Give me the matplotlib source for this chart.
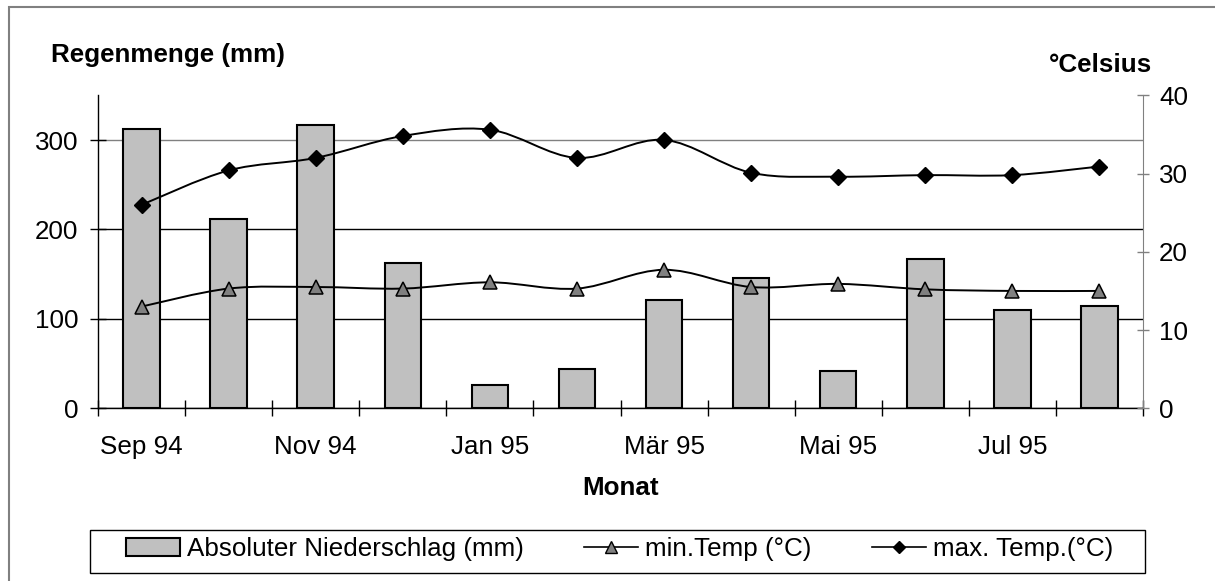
import numpy as np
import matplotlib.pyplot as plt
from matplotlib.path import Path
from matplotlib.patches import PathPatch, Patch, Rectangle
from matplotlib.lines import Line2D

plt.rcParams['font.family'] = ['Liberation Sans', 'DejaVu Sans']

# Daten
monate = ["Sep 94", "Okt 94", "Nov 94", "Dez 94", "Jan 95", "Feb 95",
          "Mär 95", "Apr 95", "Mai 95", "Jun 95", "Jul 95", "Aug 95"]
regen = [312, 212, 317, 162, 26, 44, 121, 146, 42, 167, 110, 114]
tmin = [13.0, 15.3, 15.5, 15.3, 16.1, 15.3, 17.7, 15.5, 15.9, 15.2, 15.0, 15.0]
tmax = [26.0, 30.4, 32.0, 34.8, 35.6, 32.0, 34.3, 30.1, 29.6, 29.8, 29.8, 30.9]
legende = ["Absoluter Niederschlag (mm)", "min.Temp (°C)", "max. Temp.(°C)"]

fs = 18.7


def glatt(x, y):
    # geglaettete Linie wie in Excel (Bezier durch die Punkte)
    x = np.asarray(x, float)
    y = np.asarray(y, float)
    px = np.concatenate([[x[0]], x, [x[-1]]])
    py = np.concatenate([[y[0]], y, [y[-1]]])
    verts = [(x[0], y[0])]
    codes = [Path.MOVETO]
    for i in range(1, len(x)):
        c1 = (px[i] + (px[i + 1] - px[i - 1]) / 6, py[i] + (py[i + 1] - py[i - 1]) / 6)
        c2 = (px[i + 1] - (px[i + 2] - px[i]) / 6, py[i + 1] - (py[i + 2] - py[i]) / 6)
        verts += [c1, c2, (x[i], y[i])]
        codes += [Path.CURVE4] * 3
    return Path(verts, codes)


fig = plt.figure(figsize=(12.15, 5.81), dpi=100)
ax = fig.add_axes([98 / 1215, 1 - 408.3 / 581, 1045 / 1215, 313 / 581])
ax2 = ax.twinx()

x = np.arange(len(monate))
ax.bar(x, regen, width=0.42, color="#c0c0c0", edgecolor="black", linewidth=1.5, zorder=2)
ax.set_xlim(-0.5, 11.5)
ax.set_ylim(0, 350)
ax.set_yticks([0, 100, 200, 300])
ax.yaxis.grid(True, color="black", linewidth=1, zorder=0)
ax.set_axisbelow(True)
gl = ax.get_ygridlines()
gl[-1].set_color("#808080")

ax.set_xticks(np.arange(-0.5, 12, 1))
ax.set_xticklabels([])
ax.set_xticks(x[::2], minor=True)
ax.set_xticklabels(monate[::2], minor=True)
ax.tick_params(axis="x", which="major", direction="inout", length=12, width=1)
ax.tick_params(axis="x", which="minor", length=0, pad=19, labelsize=fs)
ax.tick_params(axis="y", direction="inout", length=11.5, width=1, pad=8.6, labelsize=fs)

for s in ["top", "right"]:
    ax.spines[s].set_visible(False)
ax.spines["left"].set_linewidth(1)
ax.spines["bottom"].set_linewidth(1)

ax2.set_ylim(0, 40)
ax2.set_yticks([0, 10, 20, 30, 40])
ax2.tick_params(axis="y", direction="inout", length=8.4, width=1, pad=7.3,
                labelsize=fs, color="#808080")
for s in ["top", "left", "bottom"]:
    ax2.spines[s].set_visible(False)
ax2.spines["right"].set_color("#808080")

ax2.add_patch(PathPatch(glatt(x, tmin), fill=False, edgecolor="black", linewidth=1.4, zorder=3))
ax2.add_patch(PathPatch(glatt(x, tmax), fill=False, edgecolor="black", linewidth=1.4, zorder=3))
ax2.plot(x, tmin, linestyle="none", marker="^", markersize=10, markerfacecolor="#808080",
         markeredgecolor="black", markeredgewidth=1.1, zorder=4)
ax2.plot(x, tmax, linestyle="none", marker="D", markersize=8, color="black", zorder=4)

fig.text(50.7 / 1215, 1 - 55 / 581, "Regenmenge (mm)", fontsize=fs, fontweight="bold",
         ha="left", va="center")
fig.text(1101 / 1215, 1 - 65 / 581, "°Celsius", fontsize=fs, fontweight="bold",
         ha="center", va="center")
fig.text(620.5 / 1215, 1 - 488 / 581, "Monat", fontsize=fs, fontweight="bold",
         ha="center", va="center")

# Legende
handles = [Patch(facecolor="#c0c0c0", edgecolor="black", linewidth=1.5),
           Line2D([], [], color="black", linewidth=1.2, marker="^", markersize=9,
                  markerfacecolor="#808080", markeredgecolor="black"),
           Line2D([], [], color="black", linewidth=1.2, marker="D", markersize=6.6)]
fig.legend(handles, legende, loc="center", bbox_to_anchor=(619.5 / 1215, 1 - 549 / 581),
           ncol=3, frameon=False, fontsize=fs, handlelength=2.1, handletextpad=0.27,
           columnspacing=2.3, borderpad=0.2)
fig.add_artist(Rectangle((90 / 1215, 8 / 581), 1055 / 1215, 43 / 581, transform=fig.transFigure,
                         fill=False, edgecolor="black", linewidth=1))
# Rahmen um das Diagramm
fig.add_artist(Rectangle((9 / 1215, -0.5), 2.0, 1.5 - 7.3 / 581, transform=fig.transFigure,
                         fill=False, edgecolor="#808080", linewidth=1.5))

fig.savefig("out.png", dpi=100)
